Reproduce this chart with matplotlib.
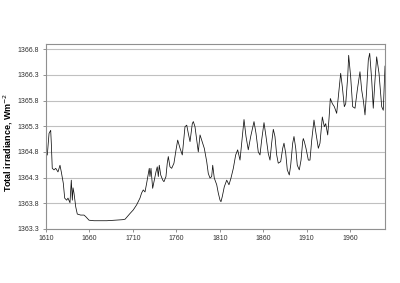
import numpy as np
import matplotlib
matplotlib.use("Agg")
import matplotlib.pyplot as plt

# reconstructed total solar irradiance
years = [
    1611.5, 1613.5, 1615.4, 1616.1, 1617.2, 1619.2, 1621.2, 1623.8, 1626.1, 1627.6,
    1629.9, 1631.5, 1633.8, 1635.3, 1637.6, 1639.1, 1640.3, 1641.1, 1642.2, 1644.2,
    1646.0, 1649.9, 1653.7, 1655.7, 1659.5, 1665.2, 1670.0, 1680.0, 1690.0, 1698.0,
    1701.0, 1702.0, 1706.6, 1710.4, 1714.3, 1718.1, 1720.0, 1721.9, 1723.9, 1725.8,
    1727.7, 1728.8, 1729.6, 1730.8, 1732.7, 1734.2, 1736.5, 1738.0, 1739.2, 1740.3,
    1742.0, 1744.3, 1745.7, 1748.0, 1749.5, 1750.7, 1752.6, 1754.6, 1757.2, 1759.6,
    1761.5, 1764.2, 1766.8, 1769.9, 1771.9, 1773.7, 1775.7, 1778.3, 1779.5, 1781.4,
    1783.4, 1785.2, 1787.2, 1789.1, 1792.1, 1794.9, 1796.7, 1798.7, 1800.6, 1801.8,
    1803.6, 1806.4, 1808.2, 1810.2, 1811.3, 1812.8, 1815.1, 1817.9, 1820.5, 1822.8,
    1825.5, 1828.2, 1830.5, 1833.2, 1835.1, 1837.8, 1840.1, 1842.7, 1845.5, 1849.3,
    1851.6, 1854.2, 1856.2, 1858.1, 1860.8, 1863.1, 1865.7, 1867.7, 1869.6, 1871.5,
    1873.4, 1875.4, 1877.2, 1880.0, 1882.3, 1883.8, 1885.8, 1887.6, 1889.9, 1891.5,
    1893.8, 1895.3, 1897.3, 1899.1, 1901.4, 1903.4, 1905.3, 1906.0, 1907.2, 1909.1,
    1911.8, 1913.7, 1915.7, 1918.3, 1920.6, 1923.3, 1925.2, 1927.9, 1930.2, 1931.8,
    1934.1, 1935.6, 1937.1, 1939.4, 1941.7, 1944.4, 1946.3, 1949.0, 1950.9, 1953.2,
    1954.8, 1957.1, 1958.2, 1960.5, 1962.8, 1965.5, 1968.1, 1971.2, 1973.2, 1975.0,
    1977.0, 1978.9, 1980.8, 1982.4, 1984.7, 1986.5, 1988.5, 1990.4, 1993.1, 1996.2,
    1998.0, 2000.0,
]
irradiance = [
    1364.74, 1365.16, 1365.22, 1364.97, 1364.48, 1364.45, 1364.48, 1364.41, 1364.54, 1364.41,
    1364.19, 1363.90, 1363.86, 1363.90, 1363.81, 1364.25, 1363.86, 1364.10, 1364.00, 1363.73,
    1363.59, 1363.57, 1363.57, 1363.54, 1363.47, 1363.46, 1363.46, 1363.46, 1363.47, 1363.48,
    1363.49, 1363.51, 1363.60, 1363.67, 1363.77, 1363.90, 1364.00, 1364.06, 1364.02, 1364.19,
    1364.38, 1364.48, 1364.32, 1364.48, 1364.09, 1364.22, 1364.41, 1364.51, 1364.32, 1364.54,
    1364.35, 1364.25, 1364.22, 1364.32, 1364.58, 1364.71, 1364.51, 1364.48, 1364.58, 1364.84,
    1365.03, 1364.87, 1364.74, 1365.29, 1365.32, 1365.16, 1365.00, 1365.35, 1365.39, 1365.29,
    1365.03, 1364.80, 1365.13, 1365.03, 1364.87, 1364.61, 1364.38, 1364.29, 1364.32, 1364.54,
    1364.29, 1364.16, 1364.00, 1363.86, 1363.83, 1363.93, 1364.12, 1364.25, 1364.16, 1364.29,
    1364.48, 1364.74, 1364.84, 1364.64, 1364.97, 1365.43, 1365.10, 1364.84, 1365.10, 1365.39,
    1365.16, 1364.80, 1364.74, 1365.03, 1365.37, 1365.10, 1364.77, 1364.64, 1364.97, 1365.24,
    1365.10, 1364.74, 1364.58, 1364.61, 1364.87, 1364.97, 1364.77, 1364.45, 1364.35, 1364.54,
    1364.97, 1365.10, 1364.87, 1364.54, 1364.45, 1364.64, 1365.00, 1365.06, 1365.00, 1364.87,
    1364.64, 1364.64, 1365.03, 1365.42, 1365.16, 1364.87, 1364.97, 1365.48, 1365.29, 1365.35,
    1365.13, 1365.45, 1365.84, 1365.74, 1365.68, 1365.55, 1365.87, 1366.33, 1366.07, 1365.68,
    1365.74, 1366.26, 1366.68, 1366.26, 1365.68, 1365.65, 1366.00, 1366.36, 1366.00, 1365.81,
    1365.52, 1366.00, 1366.59, 1366.72, 1366.20, 1365.65, 1366.20, 1366.65, 1366.33, 1365.68,
    1365.61, 1366.47,
]
x_ticks = [1610, 1660, 1710, 1760, 1810, 1860, 1910, 1960]
y_ticks = [1363.3, 1363.8, 1364.3, 1364.8, 1365.3, 1365.8, 1366.3, 1366.8]

plt.rcParams["font.family"] = ["Liberation Sans", "DejaVu Sans"]

fig = plt.figure(figsize=(4.0, 2.83), dpi=100)
ax = fig.add_axes([0.115, 0.191, 0.8475, 0.6535])

ax.plot(years, irradiance, color="#111111", lw=0.55)

ax.set_xlim(1610, 2000)
ax.set_ylim(1363.3, 1366.9)
ax.set_xticks(x_ticks)
ax.set_yticks(y_ticks)
ax.set_xticklabels([str(t) for t in x_ticks])
ax.set_yticklabels([f"{t:.1f}" for t in y_ticks])

ax.grid(axis="y", color="#c0c0c0", lw=0.8)
ax.set_axisbelow(True)
for s in ax.spines.values():
    s.set_color("#909090")
    s.set_linewidth(0.8)

ax.tick_params(axis="x", length=2.5, width=0.6, color="#808080", pad=2,
               labelsize=5, labelcolor="#303030")
ax.tick_params(axis="y", length=2.5, width=0.6, color="#808080", pad=2.5,
               labelsize=5, labelcolor="#303030")

ax.set_ylabel("Total irradiance, Wm$^{-2}$", fontsize=6.5, fontweight="bold")
ax.yaxis.set_label_coords(-0.092, 0.47)

fig.savefig("out.png", dpi=100)
